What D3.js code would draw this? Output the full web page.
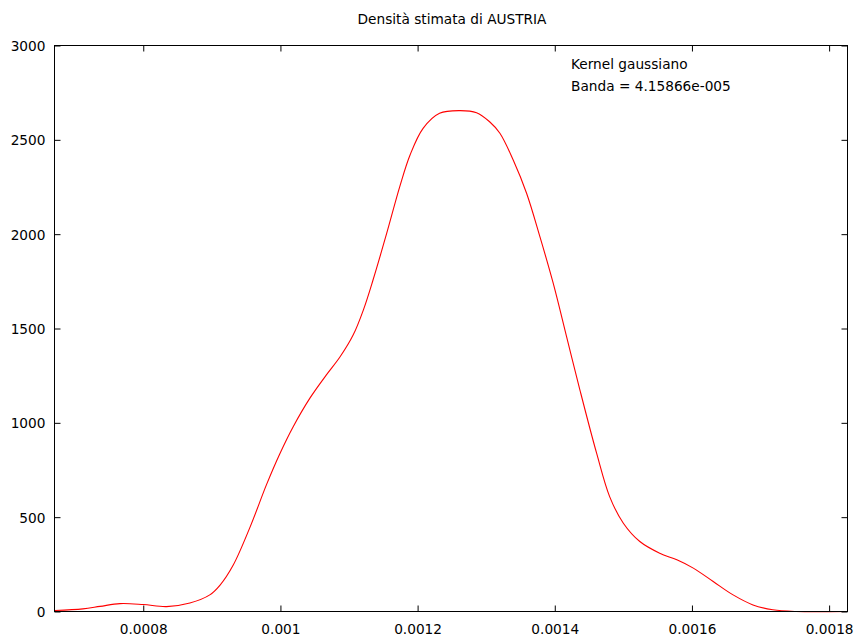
<!DOCTYPE html>
<html>
<head>
<meta charset="utf-8">
<script src="https://cdn.jsdelivr.net/npm/d3@7"></script>
<style>
  html, body { margin: 0; padding: 0; background: #fff; }
  svg { display: block; }
  text { font-family: "DejaVu Sans", Verdana, sans-serif; font-size: 13.7px; fill: #000; }
</style>
</head>
<body>
<svg id="chart" width="860" height="641"></svg>
<script>
// ---- data ----
const titleText = "Densità stimata di AUSTRIA";
const noteLines = ["Kernel gaussiano", "Banda = 4.15866e-005"];
const xDomain = [0.0006706, 0.0018268];
const yDomain = [0, 3000];
const xTicks = [0.0008, 0.001, 0.0012, 0.0014, 0.0016, 0.0018];
const xTickLabels = ["0.0008", "0.001", "0.0012", "0.0014", "0.0016", "0.0018"];
const yTicks = [0, 500, 1000, 1500, 2000, 2500, 3000];
const yTickLabels = ["0", "500", "1000", "1500", "2000", "2500", "3000"];
const densX = [0.0006713, 0.000712, 0.000737, 0.000766, 0.0008, 0.000834, 0.000868, 0.000897, 0.000912,
  0.000931, 0.000956, 0.00098, 0.000999, 0.001019, 0.001043, 0.001067, 0.001087, 0.001106,
  0.001121, 0.001135, 0.001155, 0.001174, 0.001189, 0.001208, 0.001232, 0.001262, 0.001286, 0.001305,
  0.00132, 0.0013394, 0.0013589, 0.0013783, 0.0013977, 0.0014172, 0.0014366, 0.001461, 0.00148, 0.0015,
  0.001524, 0.001553, 0.001578, 0.001602, 0.001631, 0.00166, 0.001689, 0.001718, 0.001752, 0.001827];
const densY = [5, 14, 27, 42, 37, 26, 45, 88, 140,
  245, 450, 675, 835, 982, 1131, 1254, 1350, 1465,
  1599, 1757, 2005, 2252, 2420, 2561, 2641, 2655, 2644, 2596,
  2535, 2393, 2217, 1987, 1740, 1457, 1175, 839, 609, 468,
  371, 309, 274, 230, 159, 88, 35, 9, 0, 0];

// ---- layout ----
const L = 54.5, R = 847.5, T = 45.5, B = 611.5;
const svg = d3.select("#chart");
const x = d3.scaleLinear().domain(xDomain).range([L, R]);
const y = d3.scaleLinear().domain(yDomain).range([B, T]);
const tickLen = 6;

// title
svg.append("text").attr("x", 452).attr("y", 24).attr("text-anchor", "middle").text(titleText);

// curve
const pts = densX.map((d, i) => [d, densY[i]]);
svg.append("path")
  .datum(pts)
  .attr("fill", "none")
  .attr("stroke", "#ff0000")
  .attr("stroke-width", 1.1)
  .attr("d", d3.line().x(d => x(d[0])).y(d => Math.min(y(d[1]), B)).curve(d3.curveCatmullRom.alpha(0.5)));

// axes via d3 axis generators (inward ticks, mirrored)
const fmtX = (d, i) => xTickLabels[i];
const fmtY = (d, i) => yTickLabels[i];

const gB = svg.append("g").attr("transform", `translate(0,${B})`)
  .call(d3.axisBottom(x).tickValues(xTicks).tickFormat(fmtX).tickSizeInner(-tickLen).tickSizeOuter(0).tickPadding(13));
const gT = svg.append("g").attr("transform", `translate(0,${T})`)
  .call(d3.axisTop(x).tickValues(xTicks).tickFormat("").tickSizeInner(-tickLen).tickSizeOuter(0));
const gL = svg.append("g").attr("transform", `translate(${L},0)`)
  .call(d3.axisLeft(y).tickValues(yTicks).tickFormat(fmtY).tickSizeInner(-tickLen).tickSizeOuter(0).tickPadding(9));
const gR = svg.append("g").attr("transform", `translate(${R},0)`)
  .call(d3.axisRight(y).tickValues(yTicks).tickFormat("").tickSizeInner(-tickLen).tickSizeOuter(0));

[gB, gT, gL, gR].forEach(g => {
  g.select(".domain").remove();
  g.selectAll(".tick line").attr("stroke", "#000").attr("stroke-width", 1);
  g.selectAll("text").attr("font-family", "DejaVu Sans, Verdana, sans-serif").attr("font-size", "13.7px").attr("fill", "#000");
});
gB.selectAll(".tick text").attr("dy", "0.71em");
gL.selectAll(".tick text").attr("dy", "0.36em");

// border
svg.append("rect").attr("x", L).attr("y", T).attr("width", R - L).attr("height", B - T)
  .attr("fill", "none").attr("stroke", "#000").attr("stroke-width", 1);

// note
noteLines.forEach((t, i) => {
  svg.append("text").attr("x", 571).attr("y", 68.5 + i * 22.5).text(t);
});
</script>
</body>
</html>
